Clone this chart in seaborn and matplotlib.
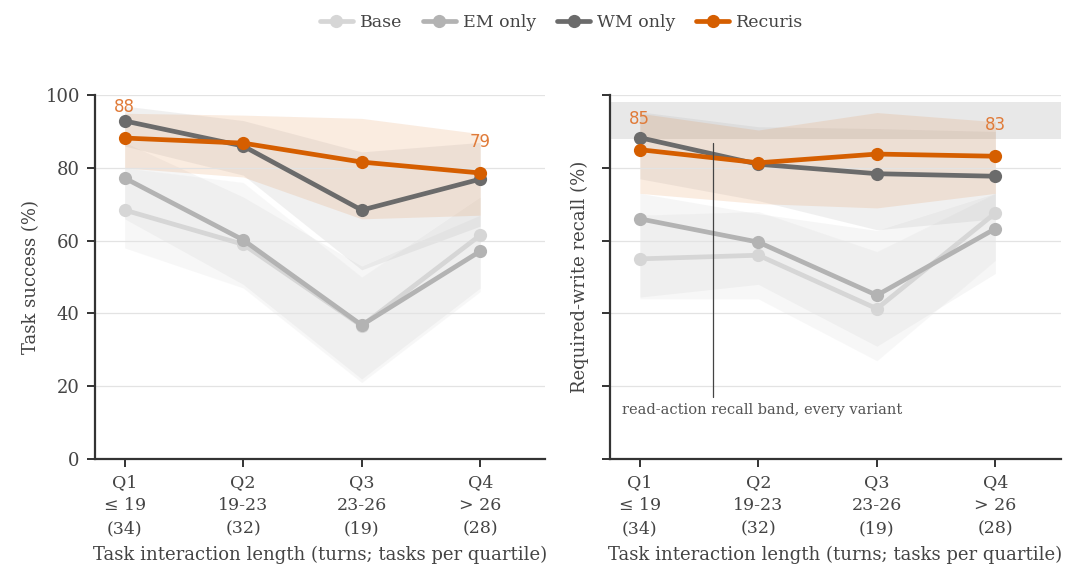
import numpy as np
import pandas as pd
import matplotlib
matplotlib.use("Agg")
import matplotlib.pyplot as plt
import seaborn as sns

# quartile labels
quartiles = ["Q1\n\u2264 19\n(34)", "Q2\n19-23\n(32)", "Q3\n23-26\n(19)", "Q4\n> 26\n(28)"]
variants = ["Base", "EM only", "WM only", "Recuris"]

# task success (%) and CI bands
success_base = [68.4, 59.0, 36.6, 61.5]
success_em = [77.2, 60.2, 36.8, 57.1]
success_wm = [92.9, 86.0, 68.4, 76.9]
success_rec = [88.2, 86.8, 81.6, 78.6]
success_lo = {"Base": [58, 47, 21, 46], "EM only": [66, 48, 22, 47],
              "WM only": [86, 78, 52, 64], "Recuris": [80, 77.5, 66, 67]}
success_hi = {"Base": [80, 76, 50, 72], "EM only": [87, 72, 53, 67],
              "WM only": [97, 93, 84.4, 87], "Recuris": [95, 94.5, 93.6, 89.4]}

# required-write recall (%) and CI bands
recall_base = [55.0, 56.0, 41.3, 67.6]
recall_em = [66.0, 59.6, 45.0, 63.3]
recall_wm = [88.3, 81.0, 78.4, 77.7]
recall_rec = [85.0, 81.4, 83.8, 83.2]
recall_lo = {"Base": [44, 44, 27, 54.6], "EM only": [44.5, 48, 31, 51],
             "WM only": [77, 71, 63, 66], "Recuris": [73, 70.2, 69, 73]}
recall_hi = {"Base": [67, 68, 57, 73], "EM only": [73, 67.4, 62.8, 73],
             "WM only": [95.4, 91.3, 90.8, 90], "Recuris": [95, 90.4, 95.2, 92.7]}

read_band = (88, 98)

colors = {"Base": "#d6d6d6", "EM only": "#b3b3b3", "WM only": "#6b6b6b", "Recuris": "#d55e00"}
band_colors = {"Base": "#c8c8c8", "EM only": "#b8b8b8", "WM only": "#a0a0a0", "Recuris": "#e07a2a"}
band_alpha = {"Base": 0.13, "EM only": 0.12, "WM only": 0.15, "Recuris": 0.14}


def long_df(vals):
    rows = []
    for v, ys in zip(variants, vals):
        for i, y in enumerate(ys):
            rows.append({"variant": v, "q": i, "value": y})
    return pd.DataFrame(rows)


sns.set_theme(style="ticks")
plt.rcParams["font.family"] = ["DejaVu Serif"]
plt.rcParams["text.color"] = "#444444"
plt.rcParams["axes.labelcolor"] = "#444444"
plt.rcParams["xtick.color"] = "#444444"
plt.rcParams["ytick.color"] = "#444444"

fig = plt.figure(figsize=(10.8, 5.87), dpi=100)
ax1 = fig.add_axes([0.088, 0.218, 0.417, 0.62])
ax2 = fig.add_axes([0.565, 0.218, 0.417, 0.62])

panels = [
    (ax1, long_df([success_base, success_em, success_wm, success_rec]), success_lo, success_hi,
     "Task success (%)", success_rec),
    (ax2, long_df([recall_base, recall_em, recall_wm, recall_rec]), recall_lo, recall_hi,
     "Required-write recall (%)", recall_rec),
]

for ax, df, lo, hi, ylabel, rec in panels:
    for y in [20, 40, 60, 80, 100]:
        ax.axhline(y, color="#e3e3e3", lw=0.9, zorder=1.5)
    if ax is ax2:
        ax.axhspan(read_band[0], read_band[1], color="#e8e8e8", zorder=0.5, lw=0)
    x = np.arange(len(quartiles))
    for v in variants:
        ax.fill_between(x, lo[v], hi[v], color=band_colors[v], alpha=band_alpha[v], lw=0, zorder=1)
    sns.lineplot(data=df, x="q", y="value", hue="variant", hue_order=variants, palette=colors,
                 marker="o", markersize=9.5, markeredgewidth=0, linewidth=3.4, ax=ax,
                 legend=(ax is ax1), zorder=3)
    ax.set_xlim(-0.25, 3.55)
    ax.set_ylim(0, 100)
    ax.set_xticks(x)
    ax.set_xticklabels(quartiles, fontsize=12.5, linespacing=1.45)
    ax.set_yticks([0, 20, 40, 60, 80, 100])
    ax.set_xlabel("Task interaction length (turns; tasks per quartile)", fontsize=13, labelpad=6)
    ax.set_ylabel(ylabel, fontsize=13)
    for s in ["top", "right"]:
        ax.spines[s].set_visible(False)
    for s in ["left", "bottom"]:
        ax.spines[s].set_color("#333333")
        ax.spines[s].set_linewidth(1.6)
    ax.tick_params(axis="both", direction="out", length=6, width=1.4, color="#333333",
                   labelsize=12.5, pad=5)
    ax.grid(False)
    for i in [0, 3]:
        ax.text(x[i], rec[i] + 8.5, f"{rec[i]:.0f}", color="#e07b39", fontsize=12,
                ha="center", va="center", family="DejaVu Sans", zorder=4)

ax1.tick_params(axis="y", labelsize=13)
ax2.set_yticklabels([])

ax2.plot([0.62, 0.62], [17, 86.8], color="#444444", lw=0.9, zorder=4)
ax2.text(-0.15, 13.6, "read-action recall band, every variant", fontsize=10.5,
         color="#555555", ha="left", va="center")

handles, labels = ax1.get_legend_handles_labels()
ax1.legend_.remove()
fig.legend(handles, labels, loc="center", bbox_to_anchor=(0.52, 0.962), ncol=4, frameon=False,
           fontsize=12.5, handlelength=1.9, columnspacing=1.2, handletextpad=0.4)

fig.savefig("out.png", dpi=100)
